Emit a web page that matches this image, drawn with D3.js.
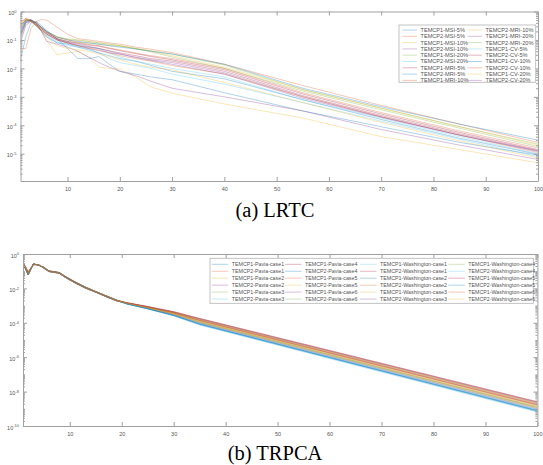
<!DOCTYPE html>
<html>
<head>
<meta charset="utf-8">
<script src="https://cdn.jsdelivr.net/npm/d3@7"></script>
<style>
  body { margin: 0; background: #fff; }
</style>
</head>
<body>
<div id="chart"></div>
<script>
// MATLAB default colour order, series cycle through it
const matlabColors = ["#0072BD", "#D95319", "#EDB120", "#7E2F8E", "#77AC30", "#4DBEEE", "#A2142F"];

// (a) LRTC -- iterations
const lrtcIter = [1, 2, 3, 4, 5, 6, 8, 10, 12, 14, 16, 18, 20, 23, 26, 30, 40, 55, 70, 85, 100];

const lrtcMSI = [
  [2e-2, 1.26e-1, 4e-1, 4.5e-1, 3.2e-1, 2.2e-1, 1.1e-1, 5e-2, 2.2e-2, 2.2e-2, 2.6e-2, 1.4e-2, 7.9e-3, 6.3e-3, 5e-3, 4e-3, 1.4e-3, 3.2e-4, 8.9e-5, 2.5e-5, 8.9e-6],
  [5e-2, 5e-2, 2.5e-1, 4.5e-1, 5.2e-1, 5e-1, 2.8e-1, 1.6e-1, 1.1e-1, 1e-1, 8.9e-2, 7.9e-2, 7.1e-2, 5.6e-2, 4.7e-2, 3.6e-2, 1.4e-2, 2.5e-3, 5e-4, 1.1e-4, 2.5e-5],
  [1e-1, 3.5e-1, 5e-1, 4e-1, 2e-1, 1e-1, 3e-2, 3.5e-2, 4e-2, 2.5e-2, 1.1e-2, 1e-2, 9.5e-3, 5e-3, 2.2e-3, 1.35e-3, 5.6e-4, 1.8e-4, 4e-5, 1.4e-5, 4.8e-6],
  [7.9e-2, 3.2e-1, 4.5e-1, 4e-1, 2e-1, 8.9e-2, 7.1e-2, 5.6e-2, 4e-2, 2.5e-2, 1.6e-2, 1.1e-2, 7.9e-3, 5.6e-3, 3.5e-3, 2e-3, 1e-3, 3.2e-4, 7.1e-5, 2e-5, 6.3e-6],
  [3.2e-1, 5.6e-1, 5e-1, 3.5e-1, 2.5e-1, 1.8e-1, 1.1e-1, 8.9e-2, 7.9e-2, 7.9e-2, 7.1e-2, 6.3e-2, 6e-2, 5e-2, 4.2e-2, 3.2e-2, 1.3e-2, 1.8e-3, 4e-4, 8.9e-5, 2.2e-5],
  [2e-1, 4.5e-1, 5e-1, 3.5e-1, 2.2e-1, 1.4e-1, 7.9e-2, 6.3e-2, 5.6e-2, 5e-2, 3.5e-2, 2.2e-2, 1.6e-2, 1.26e-2, 1e-2, 6.3e-3, 2.8e-3, 6.3e-4, 1.4e-4, 3.2e-5, 7.9e-6]
];
const lrtcMRI = [
  [2.5e-1, 5e-1, 4.5e-1, 3.2e-1, 2.2e-1, 1.6e-1, 1e-1, 7.9e-2, 6.3e-2, 5.6e-2, 5e-2, 4.2e-2, 3.5e-2, 2.8e-2, 2.2e-2, 1.8e-2, 7.9e-3, 1.1e-3, 2.2e-4, 5e-5, 1.3e-5],
  [1.26e-1, 4e-1, 4.5e-1, 3.2e-1, 2e-1, 1.26e-1, 7.9e-2, 7.1e-2, 5.6e-2, 4.5e-2, 3.5e-2, 2.8e-2, 2.2e-2, 1.8e-2, 1.26e-2, 7.9e-3, 4.3e-3, 7.9e-4, 1.6e-4, 3.5e-5, 9.5e-6],
  [4e-1, 5.6e-1, 5e-1, 4e-1, 2.8e-1, 2e-1, 1.26e-1, 1e-1, 8.3e-2, 7.1e-2, 6.3e-2, 5.2e-2, 4.5e-2, 3.5e-2, 2.8e-2, 2.2e-2, 1e-2, 1.4e-3, 2.8e-4, 6.3e-5, 1.6e-5],
  [3.5e-1, 5e-1, 5e-1, 3.5e-1, 2.5e-1, 1.8e-1, 1.26e-1, 1.05e-1, 9.5e-2, 8.9e-2, 7.9e-2, 7.1e-2, 6.3e-2, 5e-2, 4e-2, 2.8e-2, 1.1e-2, 1.8e-3, 4e-4, 8.9e-5, 2e-5],
  [1.6e-1, 4.5e-1, 5e-1, 3.5e-1, 2.5e-1, 1.6e-1, 1e-1, 7.9e-2, 6.3e-2, 5e-2, 4.2e-2, 3.5e-2, 3.2e-2, 2.5e-2, 2e-2, 1.6e-2, 7e-3, 1e-3, 2e-4, 4.5e-5, 1.26e-5],
  [2.8e-1, 5e-1, 5e-1, 4e-1, 2.8e-1, 2e-1, 1.3e-1, 1.1e-1, 1e-1, 8.9e-2, 7.9e-2, 7.1e-2, 6.3e-2, 5e-2, 3.8e-2, 2.5e-2, 1e-2, 1.6e-3, 3.5e-4, 7.9e-5, 1.8e-5]
];
const lrtcCV = [
  [2.2e-1, 5e-1, 4.5e-1, 3.2e-1, 2e-1, 1.4e-1, 8.9e-2, 7.1e-2, 6.3e-2, 5.6e-2, 5e-2, 3.5e-2, 2.5e-2, 1.8e-2, 1.4e-2, 1e-2, 5e-3, 7.9e-4, 1.8e-4, 4e-5, 1e-5],
  [3.2e-1, 5e-1, 4.8e-1, 3.5e-1, 2.5e-1, 1.8e-1, 1.1e-1, 8.9e-2, 7.6e-2, 6.6e-2, 6e-2, 5e-2, 4.2e-2, 3.3e-2, 2.6e-2, 2e-2, 9e-3, 1.26e-3, 2.5e-4, 5.6e-5, 1.4e-5],
  [1.8e-1, 4.5e-1, 5.2e-1, 4e-1, 2.8e-1, 2e-1, 1.26e-1, 1e-1, 8.9e-2, 7.9e-2, 7.1e-2, 6.3e-2, 5.6e-2, 4.8e-2, 4e-2, 3.2e-2, 1.4e-2, 2e-3, 4.5e-4, 1.1e-4, 3e-5],
  [4.5e-1, 5.6e-1, 4.5e-1, 3.2e-1, 2.2e-1, 1.6e-1, 1e-1, 7.9e-2, 6.3e-2, 5.2e-2, 4.5e-2, 3.5e-2, 2.8e-2, 2.2e-2, 1.8e-2, 1.26e-2, 6.3e-3, 1e-3, 2e-4, 4.5e-5, 1.1e-5],
  [2.5e-1, 5e-1, 4.5e-1, 3.2e-1, 2e-1, 1.26e-1, 6.3e-2, 5e-2, 4.5e-2, 4e-2, 3.2e-2, 2.5e-2, 2e-2, 1.4e-2, 1.1e-2, 8.9e-3, 3.2e-3, 6.3e-4, 1.26e-4, 2.8e-5, 7.1e-6],
  [1.4e-1, 4e-1, 5e-1, 4e-1, 2.8e-1, 1.9e-1, 1.1e-1, 8.3e-2, 7.1e-2, 6e-2, 5e-2, 4e-2, 3.2e-2, 2.4e-2, 1.9e-2, 1.4e-2, 6.3e-3, 8.9e-4, 1.9e-4, 4.5e-5, 1.2e-5]
];
const lrtcNames = [
  "TEMCP1-MSI-5%", "TEMCP2-MSI-5%", "TEMCP1-MSI-10%", "TEMCP2-MSI-10%", "TEMCP1-MSI-20%", "TEMCP2-MSI-20%",
  "TEMCP1-MRI-5%", "TEMCP2-MRI-5%", "TEMCP1-MRI-10%", "TEMCP2-MRI-10%", "TEMCP1-MRI-20%", "TEMCP2-MRI-20%",
  "TEMCP1-CV-5%", "TEMCP2-CV-5%", "TEMCP1-CV-10%", "TEMCP2-CV-10%", "TEMCP1-CV-20%", "TEMCP2-CV-20%"
];

// (b) TRPCA
const trpcaIter = [1, 2, 3, 4, 5, 6, 8, 9, 11, 13, 15, 17, 19, 21, 25, 30, 35, 60, 100];

const trpcaPavia = [
  [2.9e-1, 6e-2, 2.6e-1, 2.3e-1, 1.6e-1, 1e-1, 8e-2, 5e-2, 2.2e-2, 1.1e-2, 6.3e-3, 3.5e-3, 2e-3, 1.25e-3, 6.5e-4, 2.66e-4, 8.1e-5, 9.3e-7, 7.4e-10],
  [3.2e-1, 9e-2, 2.4e-1, 2.4e-1, 1.5e-1, 9.5e-2, 7.6e-2, 4.6e-2, 2.1e-2, 1.05e-2, 6e-3, 3.3e-3, 1.9e-3, 1.4e-3, 8e-4, 3.76e-4, 1.39e-4, 1.8e-6, 1.73e-9],
  [2.6e-1, 7.5e-2, 2.7e-1, 2.2e-1, 1.7e-1, 1.05e-1, 8.3e-2, 5.3e-2, 2.4e-2, 1.2e-2, 6.6e-3, 3.7e-3, 2.1e-3, 1.36e-3, 7.6e-4, 3.45e-4, 1.21e-4, 1.53e-6, 1.4e-9],
  [2.9e-1, 6e-2, 2.6e-1, 2.3e-1, 1.6e-1, 1e-1, 8e-2, 5e-2, 2.2e-2, 1.1e-2, 6.3e-3, 3.5e-3, 2e-3, 1.34e-3, 7.4e-4, 3.25e-4, 1.11e-4, 1.37e-6, 1.21e-9],
  [3.2e-1, 9e-2, 2.4e-1, 2.4e-1, 1.5e-1, 9.5e-2, 7.6e-2, 4.6e-2, 2.1e-2, 1.05e-2, 6e-3, 3.3e-3, 1.9e-3, 1.35e-3, 7.5e-4, 3.35e-4, 1.16e-4, 1.45e-6, 1.3e-9],
  [2.6e-1, 7.5e-2, 2.7e-1, 2.2e-1, 1.7e-1, 1.05e-1, 8.3e-2, 5.3e-2, 2.4e-2, 1.2e-2, 6.6e-3, 3.7e-3, 2.1e-3, 1.23e-3, 6.3e-4, 2.5e-4, 7.4e-5, 8.3e-7, 6.5e-10],
  [2.9e-1, 6e-2, 2.6e-1, 2.3e-1, 1.6e-1, 1e-1, 8e-2, 5e-2, 2.2e-2, 1.1e-2, 6.3e-3, 3.5e-3, 2e-3, 1.48e-3, 8.9e-4, 4.5e-4, 1.82e-4, 2.5e-6, 2.6e-9],
  [3.2e-1, 9e-2, 2.4e-1, 2.4e-1, 1.5e-1, 9.5e-2, 7.6e-2, 4.6e-2, 2.1e-2, 1.05e-2, 6e-3, 3.3e-3, 1.9e-3, 1.28e-3, 6.8e-4, 2.82e-4, 8.9e-5, 1.04e-6, 8.55e-10],
  [2.6e-1, 7.5e-2, 2.7e-1, 2.2e-1, 1.7e-1, 1.05e-1, 8.3e-2, 5.3e-2, 2.4e-2, 1.2e-2, 6.6e-3, 3.7e-3, 2.1e-3, 1.43e-3, 8.3e-4, 4e-4, 1.52e-4, 2.01e-6, 1.99e-9],
  [2.9e-1, 6e-2, 2.6e-1, 2.3e-1, 1.6e-1, 1e-1, 8e-2, 5e-2, 2.2e-2, 1.1e-2, 6.3e-3, 3.5e-3, 2e-3, 1.31e-3, 7.1e-4, 3.07e-4, 1.01e-4, 1.22e-6, 1.06e-9],
  [3.2e-1, 9e-2, 2.4e-1, 2.4e-1, 1.5e-1, 9.5e-2, 7.6e-2, 4.6e-2, 2.1e-2, 1.05e-2, 6e-3, 3.3e-3, 1.9e-3, 1.39e-3, 7.9e-4, 3.65e-4, 1.33e-4, 1.71e-6, 1.61e-9],
  [2.6e-1, 7.5e-2, 2.7e-1, 2.2e-1, 1.7e-1, 1.05e-1, 8.3e-2, 5.3e-2, 2.4e-2, 1.2e-2, 6.6e-3, 3.7e-3, 2.1e-3, 1.32e-3, 7.2e-4, 3.16e-4, 1.06e-4, 1.29e-6, 1.13e-9]
];
const trpcaWashington = [
  [2.9e-1, 6e-2, 2.6e-1, 2.3e-1, 1.6e-1, 1e-1, 8e-2, 5e-2, 2.2e-2, 1.1e-2, 6.3e-3, 3.5e-3, 2e-3, 1.24e-3, 6.4e-4, 2.6e-4, 7.75e-5, 8.8e-7, 6.9e-10],
  [3.2e-1, 9e-2, 2.4e-1, 2.4e-1, 1.5e-1, 9.5e-2, 7.6e-2, 4.6e-2, 2.1e-2, 1.05e-2, 6e-3, 3.3e-3, 1.9e-3, 1.47e-3, 8.75e-4, 4.34e-4, 1.74e-4, 2.38e-6, 2.45e-9],
  [2.6e-1, 7.5e-2, 2.7e-1, 2.2e-1, 1.7e-1, 1.05e-1, 8.3e-2, 5.3e-2, 2.4e-2, 1.2e-2, 6.6e-3, 3.7e-3, 2.1e-3, 1.26e-3, 6.6e-4, 2.74e-4, 8.5e-5, 9.8e-7, 7.97e-10],
  [2.9e-1, 6e-2, 2.6e-1, 2.3e-1, 1.6e-1, 1e-1, 8e-2, 5e-2, 2.2e-2, 1.1e-2, 6.3e-3, 3.5e-3, 2e-3, 1.41e-3, 8.2e-4, 3.87e-4, 1.45e-4, 1.9e-6, 1.85e-9],
  [3.2e-1, 9e-2, 2.4e-1, 2.4e-1, 1.5e-1, 9.5e-2, 7.6e-2, 4.6e-2, 2.1e-2, 1.05e-2, 6e-3, 3.3e-3, 1.9e-3, 1.37e-3, 7.76e-4, 3.55e-4, 1.27e-4, 1.61e-6, 1.5e-9],
  [2.6e-1, 7.5e-2, 2.7e-1, 2.2e-1, 1.7e-1, 1.05e-1, 8.3e-2, 5.3e-2, 2.4e-2, 1.2e-2, 6.6e-3, 3.7e-3, 2.1e-3, 1.3e-3, 7e-4, 2.98e-4, 9.7e-5, 1.16e-6, 9.8e-10],
  [2.9e-1, 6e-2, 2.6e-1, 2.3e-1, 1.6e-1, 1e-1, 8e-2, 5e-2, 2.2e-2, 1.1e-2, 6.3e-3, 3.5e-3, 2e-3, 1.44e-3, 8.46e-4, 4.1e-4, 1.59e-4, 2.13e-6, 2.13e-9],
  [3.2e-1, 9e-2, 2.4e-1, 2.4e-1, 1.5e-1, 9.5e-2, 7.6e-2, 4.6e-2, 2.1e-2, 1.05e-2, 6e-3, 3.3e-3, 1.9e-3, 1.29e-3, 6.9e-4, 2.9e-4, 9.3e-5, 1.1e-6, 9.2e-10],
  [2.6e-1, 7.5e-2, 2.7e-1, 2.2e-1, 1.7e-1, 1.05e-1, 8.3e-2, 5.3e-2, 2.4e-2, 1.2e-2, 6.6e-3, 3.7e-3, 2.1e-3, 1.45e-3, 8.6e-4, 4.2e-4, 1.66e-4, 2.25e-6, 2.29e-9],
  [2.9e-1, 6e-2, 2.6e-1, 2.3e-1, 1.6e-1, 1e-1, 8e-2, 5e-2, 2.2e-2, 1.1e-2, 6.3e-3, 3.5e-3, 2e-3, 1.26e-3, 6.6e-4, 2.69e-4, 8.3e-5, 9.5e-7, 7.6e-10],
  [3.2e-1, 9e-2, 2.4e-1, 2.4e-1, 1.5e-1, 9.5e-2, 7.6e-2, 4.6e-2, 2.1e-2, 1.05e-2, 6e-3, 3.3e-3, 1.9e-3, 1.4e-3, 7.95e-4, 3.7e-4, 1.36e-4, 1.76e-6, 1.68e-9],
  [2.6e-1, 7.5e-2, 2.7e-1, 2.2e-1, 1.7e-1, 1.05e-1, 8.3e-2, 5.3e-2, 2.4e-2, 1.2e-2, 6.6e-3, 3.7e-3, 2.1e-3, 1.35e-3, 7.45e-4, 3.3e-4, 1.14e-4, 1.42e-6, 1.26e-9]
];
const trpcaNames = [
  "TEMCP1-Pavia-case1", "TEMCP2-Pavia-case1", "TEMCP1-Pavia-case2", "TEMCP2-Pavia-case2",
  "TEMCP1-Pavia-case3", "TEMCP2-Pavia-case3", "TEMCP1-Pavia-case4", "TEMCP2-Pavia-case4",
  "TEMCP1-Pavia-case5", "TEMCP2-Pavia-case5", "TEMCP1-Pavia-case6", "TEMCP2-Pavia-case6",
  "TEMCP1-Washington-case1", "TEMCP2-Washington-case1", "TEMCP1-Washington-case2", "TEMCP2-Washington-case2",
  "TEMCP1-Washington-case3", "TEMCP2-Washington-case3", "TEMCP1-Washington-case4", "TEMCP2-Washington-case4",
  "TEMCP1-Washington-case5", "TEMCP2-Washington-case5", "TEMCP1-Washington-case6", "TEMCP2-Washington-case6"
];

const xTicks = [10, 20, 30, 40, 50, 60, 70, 80, 90, 100];

const svg = d3.select("#chart").append("svg")
  .attr("width", 543)
  .attr("height", 465)
  .attr("font-family", "'Liberation Sans', Arial, Helvetica, sans-serif");

const axisColor = "#a0a0a0";
const labelColor = "#555";

function drawPanel(p) {
  const g = svg.append("g");

  // Scales
  //-----------
  const x = d3.scaleLinear([1, 100], [p.left, p.right]);
  const y = d3.scaleLog([p.yMin, 1], [p.bottom, p.top]);

  const minor = [];
  for (let e = p.minExp; e < 0; e++) {
    for (let m = 2; m <= 9; m++) {
      const v = m * Math.pow(10, e);
      if (v >= p.yMin) minor.push(v);
    }
    if (p.oddMinor && (e % 2 !== 0)) minor.push(Math.pow(10, e));
  }
  const major = p.yTicks.map(e => Math.pow(10, e));

  // Lines
  //-----------
  const clipId = "clip" + p.id;
  g.append("clipPath").attr("id", clipId)
    .append("rect")
    .attr("x", p.left).attr("y", p.top)
    .attr("width", p.right - p.left).attr("height", p.bottom - p.top);

  const line = d3.line()
    .x((d, i) => x(p.iter[i]))
    .y(d => y(d));

  g.append("g")
    .attr("clip-path", "url(#" + clipId + ")")
    .selectAll("path")
    .data(p.series)
    .enter()
    .append("path")
    .attr("d", d => line(d))
    .attr("fill", "none")
    .attr("stroke", (d, i) => matlabColors[i % 7])
    .attr("stroke-width", 0.7)
    .attr("stroke-opacity", 0.45);

  // Axes (box style, ticks inside)
  //-----------
  const styleAxis = sel => {
    sel.selectAll("path, line").attr("stroke", axisColor);
    sel.selectAll("text").attr("fill", labelColor).attr("font-size", "5.5px")
      .attr("font-family", "'Liberation Sans', Arial, sans-serif");
  };

  g.append("g")
    .attr("transform", "translate(0," + p.bottom + ")")
    .call(d3.axisBottom(x).tickValues(xTicks).tickSizeInner(-4).tickSizeOuter(0).tickPadding(6))
    .call(styleAxis);

  g.append("g")
    .attr("transform", "translate(0," + p.top + ")")
    .call(d3.axisTop(x).tickValues(xTicks).tickSizeInner(-4).tickSizeOuter(0).tickFormat(""))
    .call(styleAxis);

  const yLeft = g.append("g")
    .attr("transform", "translate(" + p.left + ",0)")
    .call(d3.axisLeft(y).tickValues(major).tickSizeInner(-4).tickSizeOuter(0).tickPadding(4))
    .call(styleAxis);

  yLeft.selectAll(".tick text").each(function(d) {
    const t = d3.select(this);
    const ex = Math.round(Math.log10(d));
    t.text("10").attr("dy", "0.55em");
    t.append("tspan").attr("dy", "-0.6em").attr("font-size", "4px").text(ex);
  });

  g.append("g")
    .attr("transform", "translate(" + p.right + ",0)")
    .call(d3.axisRight(y).tickValues(major).tickSizeInner(-4).tickSizeOuter(0).tickFormat(""))
    .call(styleAxis);

  // minor log ticks on both sides
  g.append("g")
    .attr("transform", "translate(" + p.left + ",0)")
    .call(d3.axisLeft(y).tickValues(minor).tickSizeInner(-2).tickSizeOuter(0).tickFormat(""))
    .call(styleAxis)
    .select(".domain").remove();
  g.append("g")
    .attr("transform", "translate(" + p.right + ",0)")
    .call(d3.axisRight(y).tickValues(minor).tickSizeInner(-2).tickSizeOuter(0).tickFormat(""))
    .call(styleAxis)
    .select(".domain").remove();

  // Legend
  //-----------
  const lg = g.append("g");
  lg.append("rect")
    .attr("x", p.legend.x).attr("y", p.legend.y)
    .attr("width", p.legend.w).attr("height", p.legend.h)
    .attr("fill", "#fff")
    .attr("stroke", "#b4b4b4")
    .attr("stroke-width", 0.8);

  const rows = p.legend.rows;
  const items = lg.selectAll("g.item")
    .data(p.names)
    .enter()
    .append("g")
    .attr("transform", (d, i) => {
      const c = Math.floor(i / rows), r = i % rows;
      return "translate(" + p.legend.cols[c] + "," + (p.legend.row0 + r * p.legend.dy) + ")";
    });

  items.append("line")
    .attr("x1", 0).attr("x2", p.legend.lineW)
    .attr("stroke", (d, i) => matlabColors[i % 7])
    .attr("stroke-width", 0.7)
    .attr("stroke-opacity", 0.45);

  items.append("text")
    .text(d => d)
    .attr("x", p.legend.lineW + 3.5)
    .attr("dy", "0.35em")
    .attr("font-size", p.legend.font)
    .attr("fill", labelColor);

  // Caption
  //-----------
  svg.append("text")
    .text(p.caption)
    .attr("x", 275)
    .attr("y", p.captionY)
    .attr("text-anchor", "middle")
    .attr("font-family", "'Liberation Serif', 'Times New Roman', serif")
    .attr("font-size", "20.5px")
    .attr("fill", "#000");
}

drawPanel({
  id: "a",
  left: 20.5, right: 538, top: 11.5, bottom: 181,
  yMin: 1.1e-6, minExp: -6, yTicks: [0, -1, -2, -3, -4, -5], oddMinor: false,
  iter: lrtcIter,
  series: lrtcMSI.concat(lrtcMRI, lrtcCV),
  names: lrtcNames,
  legend: { x: 399, y: 25, w: 136.7, h: 57.3, rows: 9, cols: [402.5, 467.5], lineW: 14.5, row0: 30, dy: 6.3, font: "5.6px" },
  caption: "(a) LRTC", captionY: 217
});

drawPanel({
  id: "b",
  left: 23, right: 537.4, top: 254, bottom: 426,
  yMin: 1e-10, minExp: -10, yTicks: [0, -2, -4, -6, -8, -10], oddMinor: true,
  iter: trpcaIter,
  series: trpcaPavia.concat(trpcaWashington),
  names: trpcaNames,
  legend: { x: 210, y: 258.3, w: 323.3, h: 45, rows: 6, cols: [211.7, 285, 360, 448.3], lineW: 16.5, row0: 264.3, dy: 6.95, font: "5.3px" },
  caption: "(b) TRPCA", captionY: 459.5
});
</script>
</body>
</html>
